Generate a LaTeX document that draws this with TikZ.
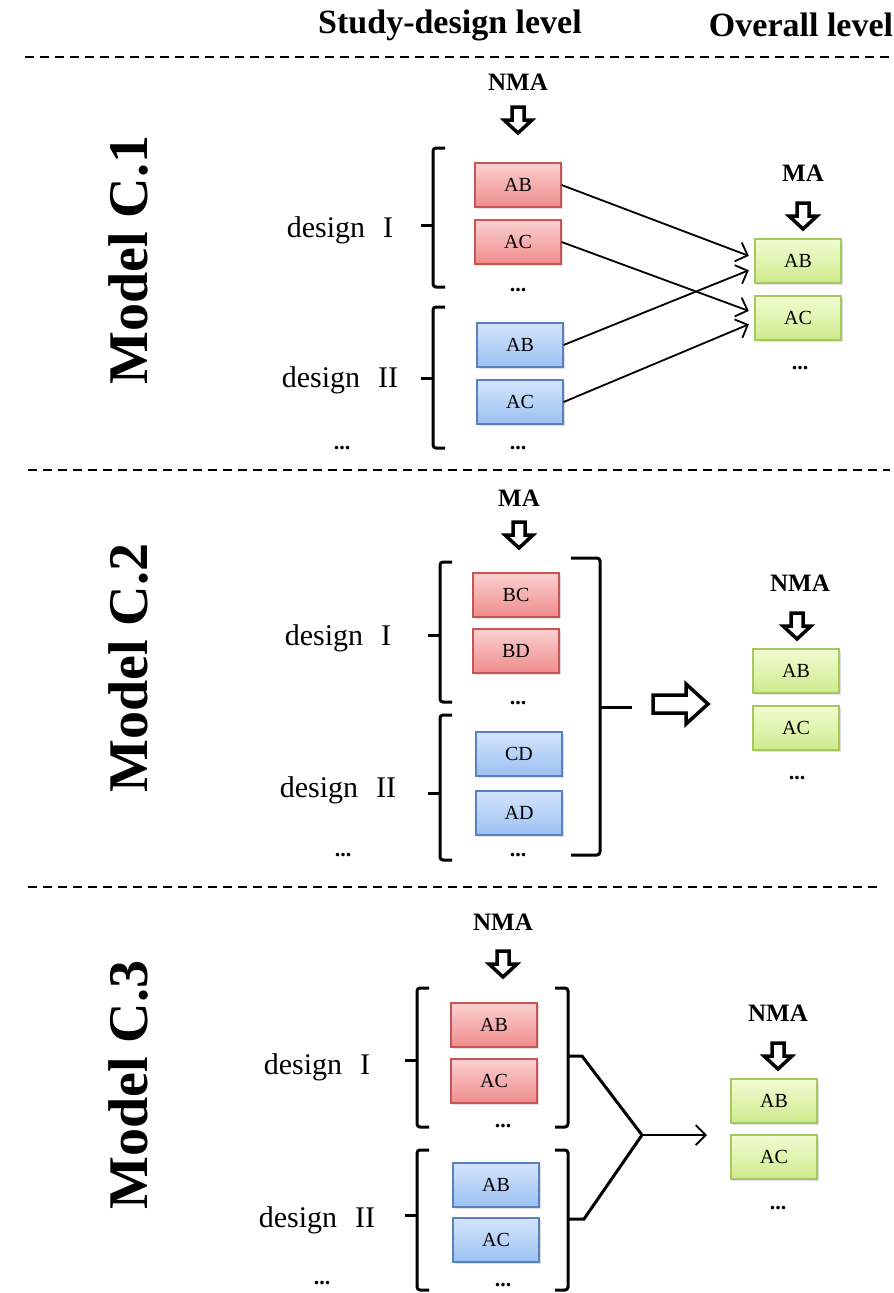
\documentclass[tikz,border=0pt]{standalone}
\usepackage{fontspec}
\setmainfont{Liberation Serif}
\usetikzlibrary{arrows.meta,shadows,calc}

\definecolor{redtop}{RGB}{251,208,208}
\definecolor{redbot}{RGB}{240,140,140}
\definecolor{redline}{RGB}{200,85,85}
\definecolor{bluetop}{RGB}{212,229,252}
\definecolor{bluebot}{RGB}{155,192,242}
\definecolor{blueline}{RGB}{90,128,192}
\definecolor{greentop}{RGB}{242,252,210}
\definecolor{greenbot}{RGB}{205,235,140}
\definecolor{greenline}{RGB}{165,200,95}

\tikzset{
  box/.style={draw, line width=1.2pt, minimum width=86pt, minimum height=44pt, inner sep=0pt,
    font=\fontsize{20}{22}\selectfont,
    drop shadow={opacity=0.25, shadow xshift=1.5pt, shadow yshift=-2pt}},
  redbox/.style={box, draw=redline, top color=redtop, bottom color=redbot},
  bluebox/.style={box, draw=blueline, top color=bluetop, bottom color=bluebot},
  greenbox/.style={box, draw=greenline, top color=greentop, bottom color=greenbot},
  lbl/.style={font=\fontsize{30}{32}\selectfont},
  dots/.style={font=\fontsize{22}{24}\bfseries\selectfont},
  meth/.style={font=\fontsize{25}{27}\bfseries\selectfont},
  model/.style={rotate=90, font=\fontsize{56}{60}\bfseries\selectfont},
  head/.style={font=\fontsize{34}{36}\bfseries\selectfont},
  sep/.style={line width=2pt, dash pattern=on 9pt off 6pt},
  brak/.style={line width=3pt, rounded corners=3pt},
  link/.style={line width=1.8pt, -{Straight Barb[length=10pt,width=20pt,line width=1.8pt]}},
  hdown/.pic={\draw[line width=3.5pt, fill=white, line join=miter]
    (-6,-13) -- (6,-13) -- (6,0) -- (14,0) -- (0,13) -- (-14,0) -- (-6,0) -- cycle;},
}

\begin{document}
\begin{tikzpicture}[x=1pt, y=-1pt]
\useasboundingbox (0,0) rectangle (894,1293);

% headings and separators
\node[head] (hstudy) at (450,25) {Study-design level};
\node[head] (hall) at (801,25) {Overall level};
\draw[sep] (25,57) -- (894,57);
\draw[sep] (28,470) -- (890,470);
\draw[sep] (28,887) -- (880,887);

% left brackets of the designs
\foreach \x/\t/\m/\b in {433/148/225/287, 433/307/378/448,
                          440/562/635/702, 440/715/793/860,
                          417/988/1060/1127, 417/1150/1215/1290}
{
  \draw[brak] (\x+12,\t) -- (\x,\t) -- (\x,\b) -- (\x+12,\b);
  \draw[brak] (\x,\m) -- (\x-12,\m);
}

%%% Model C.1
\node[model] (m1) at (128,260) {Model C.1};
\node[meth] (nma1) at (518,82) {NMA};
\pic at (518,120) {hdown};
\node[lbl] (d1a) at (340,230) {design\hspace{0.35em} I};
\node[lbl] (d1b) at (340,380) {design\hspace{0.35em} II};
\node[redbox] (r1ab) at (518,185) {AB};
\node[redbox] (r1ac) at (518,242) {AC};
\node[dots] (r1d) at (518,290) {...};
\node[bluebox] (b1ab) at (520,345) {AB};
\node[bluebox] (b1ac) at (520,402) {AC};
\node[dots] (b1d) at (518,448) {...};
\node[dots] (l1d) at (342,448) {...};
\node[meth] (ma1) at (803,173) {MA};
\pic at (803,216) {hdown};
\node[greenbox] (g1ab) at (798,261) {AB};
\node[greenbox] (g1ac) at (798,318) {AC};
\node[dots] (g1d) at (800,368) {...};
\draw[link, shorten >=6pt] (r1ab.east) -- ([yshift=3pt]g1ab.west);
\draw[link, shorten >=6pt] (b1ab.east) -- ([yshift=-7pt]g1ab.west);
\draw[link, shorten >=6pt] (r1ac.east) -- ([yshift=5pt]g1ac.west);
\draw[link, shorten >=6pt] (b1ac.east) -- ([yshift=-4pt]g1ac.west);

%%% Model C.2
\node[model] (m2) at (128,668) {Model C.2};
\node[meth] (ma2) at (519,498) {MA};
\pic at (519,535) {hdown};
\node[lbl] (d2a) at (338,638) {design\hspace{0.35em} I};
\node[lbl] (d2b) at (338,790) {design\hspace{0.35em} II};
\node[redbox] (r2bc) at (516,595) {BC};
\node[redbox] (r2bd) at (516,651) {BD};
\node[dots] (r2d) at (518,703) {...};
\node[bluebox] (b2cd) at (519,754) {CD};
\node[bluebox] (b2ad) at (519,813) {AD};
\node[dots] (b2d) at (518,855) {...};
\node[dots] (l2d) at (343,855) {...};
\draw[brak] (571,558) -- (600,558) -- (600,855) -- (571,855);
\draw[brak] (600,707) -- (632,707);
\draw[line width=3.5pt, fill=white, line join=miter]
  (653,695) -- (686,695) -- (686,684) -- (708,704) -- (686,724) -- (686,713) -- (653,713) -- cycle;
\node[meth] (nma2) at (800,583) {NMA};
\pic at (797,626) {hdown};
\node[greenbox] (g2ab) at (796,671) {AB};
\node[greenbox] (g2ac) at (796,728) {AC};
\node[dots] (g2d) at (797,778) {...};

%%% Model C.3
\node[model] (m3) at (128,1085) {Model C.3};
\node[meth] (nma3) at (503,922) {NMA};
\pic at (503,964) {hdown};
\node[lbl] (d3a) at (317,1067) {design\hspace{0.35em} I};
\node[lbl] (d3b) at (317,1220) {design\hspace{0.35em} II};
\node[redbox] (r3ab) at (494,1025) {AB};
\node[redbox] (r3ac) at (494,1081) {AC};
\node[dots] (r3d) at (503,1126) {...};
\node[bluebox] (b3ab) at (496,1185) {AB};
\node[bluebox] (b3ac) at (496,1240) {AC};
\node[dots] (b3d) at (503,1285) {...};
\node[dots] (l3d) at (322,1283) {...};
\coordinate (j3) at (642,1135);
\coordinate (e3) at (707,1135);
\draw[brak] (555,988) -- (568,988) -- (568,1127) -- (555,1127);
\draw[brak] (555,1150) -- (568,1150) -- (568,1290) -- (555,1290);
\draw[brak, rounded corners=0pt] (568,1056) -- (582,1056) -- (j3) -- (584,1219) -- (568,1219);
\draw[link] (j3) -- (e3);
\node[meth] (nma4) at (778,1013) {NMA};
\pic at (778,1056) {hdown};
\node[greenbox] (g3ab) at (774,1101) {AB};
\node[greenbox] (g3ac) at (774,1157) {AC};
\node[dots] (g3d) at (778,1208) {...};
\end{tikzpicture}
\end{document}
